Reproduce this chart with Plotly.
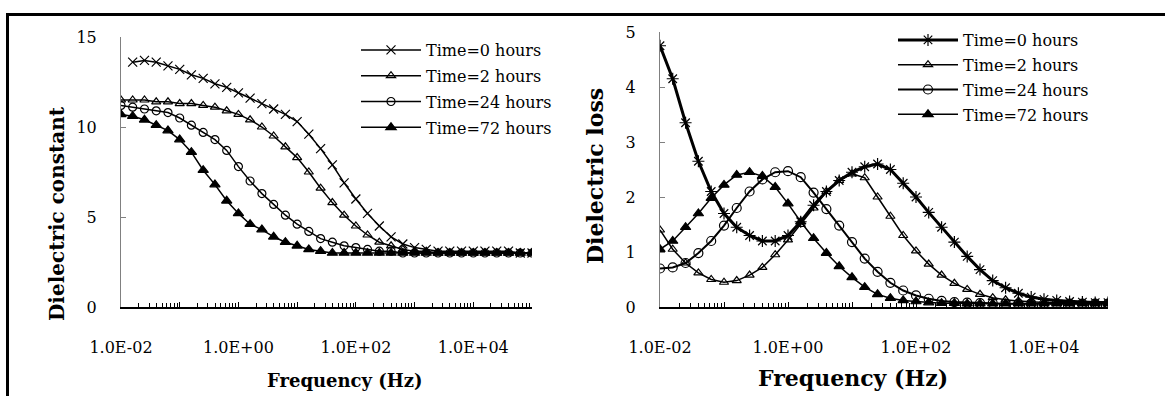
import plotly.graph_objects as go

# ---------------- data ----------------
freq = [0.01, 0.0158, 0.0251, 0.0398, 0.0631, 0.1, 0.158, 0.251, 0.398, 0.631,
        1, 1.58, 2.51, 3.98, 6.31, 10, 15.8, 25.1, 39.8, 63.1,
        100, 158, 251, 398, 631, 1000, 1580, 2510, 3980, 6310,
        10000, 15800, 25100, 39800, 63100, 100000]

series_names = ["Time=0 hours", "Time=2 hours", "Time=24 hours", "Time=72 hours"]

# Dielectric constant (left panel)
eps_t0 = [None, 13.6, 13.7, 13.6, 13.4, 13.2, 12.9, 12.7, 12.4, 12.2,
          11.9, 11.6, 11.3, 11.0, 10.7, 10.3, 9.6, 8.8, 7.9, 6.9,
          6.0, 5.2, 4.5, 3.9, 3.5, 3.3, 3.2, 3.1, 3.1, 3.1,
          3.1, 3.1, 3.1, 3.1, 3.0, 3.0]
eps_t2 = [11.5, 11.5, 11.5, 11.4, 11.4, 11.3, 11.3, 11.2, 11.1, 10.9,
          10.7, 10.4, 10.0, 9.5, 8.9, 8.3, 7.5, 6.6, 5.8, 5.1,
          4.5, 4.0, 3.6, 3.4, 3.2, 3.1, 3.1, 3.0, 3.0, 3.0,
          3.0, 3.0, 3.0, 3.0, 3.0, 3.0]
eps_t24 = [11.2, 11.1, 11.0, 10.9, 10.8, 10.5, 10.1, 9.7, 9.3, 8.7,
           7.8, 7.0, 6.3, 5.7, 5.1, 4.6, 4.2, 3.8, 3.6, 3.4,
           3.3, 3.2, 3.1, 3.1, 3.0, 3.0, 3.0, 3.0, 3.0, 3.0,
           3.0, 3.0, 3.0, 3.0, 3.0, 3.0]
eps_t72 = [10.7, 10.6, 10.4, 10.1, 9.8, 9.3, 8.6, 7.6, 6.8, 5.9,
           5.2, 4.6, 4.3, 3.9, 3.6, 3.4, 3.2, 3.1, 3.0, 3.0,
           3.0, 3.0, 3.0, 3.0, 3.0, 3.0, 3.0, 3.0, 3.0, 3.0,
           3.0, 3.0, 3.0, 3.0, 3.0, 3.0]

# Dielectric loss (right panel)
loss_t0 = [4.75, 4.15, 3.35, 2.65, 2.1, 1.7, 1.45, 1.3, 1.2, 1.2,
           1.3, 1.55, 1.85, 2.1, 2.3, 2.45, 2.55, 2.6, 2.5, 2.25,
           2.0, 1.72, 1.45, 1.18, 0.92, 0.68, 0.48, 0.35, 0.25, 0.18,
           0.14, 0.12, 0.1, 0.09, 0.08, 0.08]
loss_t2 = [1.4, 1.05, 0.8, 0.62, 0.5, 0.45, 0.48, 0.58, 0.72, 0.95,
           1.22, 1.5, 1.8, 2.1, 2.3, 2.42, 2.35, 2.0, 1.65, 1.3,
           1.02, 0.78, 0.58, 0.43, 0.32, 0.23, 0.17, 0.13, 0.11, 0.09,
           0.08, 0.08, 0.07, 0.07, 0.07, 0.07]
loss_t24 = [0.7, 0.72, 0.8, 0.98, 1.2, 1.48, 1.8, 2.1, 2.32, 2.45,
            2.47, 2.36, 2.08, 1.78, 1.48, 1.18, 0.88, 0.64, 0.44, 0.3,
            0.21, 0.15, 0.11, 0.09, 0.08, 0.07, 0.07, 0.06, 0.06, 0.06,
            0.06, 0.06, 0.06, 0.06, 0.06, 0.06]
loss_t72 = [1.05, 1.2, 1.45, 1.7, 1.98, 2.22, 2.4, 2.45, 2.38, 2.18,
            1.88, 1.55, 1.25, 0.98, 0.74, 0.54, 0.36, 0.23, 0.16, 0.12,
            0.1, 0.08, 0.07, 0.07, 0.06, 0.06, 0.06, 0.06, 0.06, 0.06,
            0.06, 0.06, 0.06, 0.06, 0.06, 0.06]

x_tick_vals = [0.01, 0.1, 1, 10, 100, 1000, 10000, 100000]
x_tick_text = ["1.0E-02", "", "1.0E+00", "", "1.0E+02", "", "1.0E+04", ""]

# ---------------- figure ----------------
W, H = 1165, 396
FONT = "DejaVu Serif"

def px(xp):
    return xp / W

def py(yp):
    return 1 - yp / H

fig = go.Figure()

left_series = [eps_t0, eps_t2, eps_t24, eps_t72]
right_series = [loss_t0, loss_t2, loss_t24, loss_t72]
left_sym = ["x-thin", "triangle-up-open", "circle-open", "triangle-up"]
right_sym = ["asterisk-open", "triangle-up-open", "circle-open", "triangle-up"]
left_size = [9, 8, 8, 9]
right_size = [10, 8, 9, 9]
right_lw = [3, 1.5, 2, 1.5]

for i, (name, ys) in enumerate(zip(series_names, left_series)):
    fig.add_trace(go.Scatter(
        x=freq, y=ys, name=name, mode="lines+markers",
        line=dict(color="black", width=1.5),
        marker=dict(symbol=left_sym[i], size=left_size[i], color="black",
                    line=dict(color="black", width=1.2)),
        xaxis="x", yaxis="y", legend="legend", legendgroup="L%d" % i,
        connectgaps=False,
    ))

for i, (name, ys) in enumerate(zip(series_names, right_series)):
    fig.add_trace(go.Scatter(
        x=freq, y=ys, name=name, mode="lines+markers",
        line=dict(color="black", width=right_lw[i]),
        marker=dict(symbol=right_sym[i], size=right_size[i], color="black",
                    line=dict(color="black", width=1.2)),
        xaxis="x2", yaxis="y2", legend="legend2", legendgroup="R%d" % i,
    ))

minor_vals = [m * 10 ** k for k in range(-2, 5) for m in range(2, 10)]

xcommon = dict(
    type="log", range=[-2, 5], showgrid=False, zeroline=False, automargin=False,
    showline=True, linecolor="black", linewidth=2,
    ticks="inside", ticklen=5, tickcolor="black", tickwidth=1,
    tickmode="array", tickvals=x_tick_vals, ticktext=x_tick_text,
    tickfont=dict(family=FONT, size=16, color="black"),
    ticklabelstandoff=25,
    minor=dict(ticks="inside", ticklen=4, tickcolor="black", tickwidth=1,
               tickmode="array", tickvals=minor_vals, showgrid=False),
)
ycommon = dict(
    showgrid=False, zeroline=False, showline=True, linecolor="#808080",
    automargin=False,
    linewidth=1, ticks="inside", ticklen=5, tickcolor="#808080",
    tickfont=dict(family=FONT, size=16, color="black"),
    ticklabelstandoff=20,
)

fig.update_layout(
    template="none",
    width=W, height=H, autosize=False,
    margin=dict(l=0, r=0, t=0, b=0, pad=0, autoexpand=False),
    paper_bgcolor="white", plot_bgcolor="white",
    xaxis=dict(domain=[px(121), px(532)], anchor="y", **xcommon),
    yaxis=dict(domain=[py(307), py(37)], anchor="x", range=[0, 15],
               dtick=5, **ycommon),
    xaxis2=dict(domain=[px(660), px(1108)], anchor="y2", **xcommon),
    yaxis2=dict(domain=[py(307), py(32)], anchor="x2", range=[0, 5],
                dtick=1, **ycommon),
    legend=dict(x=px(356), y=py(33), xanchor="left", yanchor="top",
                bgcolor="rgba(0,0,0,0)", borderwidth=0,
                font=dict(family=FONT, size=16, color="black"),
                tracegroupgap=2, itemwidth=60),
    legend2=dict(x=px(893), y=py(23), xanchor="left", yanchor="top",
                 bgcolor="rgba(0,0,0,0)", borderwidth=0,
                 font=dict(family=FONT, size=16, color="black"),
                 tracegroupgap=1, itemwidth=60),
    showlegend=True,
)

annots = [
    dict(text="<b>Dielectric constant</b>", x=px(57), y=py(214), textangle=-90,
         font=dict(family=FONT, size=20, color="black")),
    dict(text="<b>Frequency (Hz)</b>", x=px(345), y=py(380),
         font=dict(family=FONT, size=18, color="black")),
    dict(text="<b>Dielectric loss</b>", x=px(595), y=py(176), textangle=-90,
         font=dict(family=FONT, size=22, color="black")),
    dict(text="<b>Frequency (Hz)</b>", x=px(853), y=py(378),
         font=dict(family=FONT, size=22, color="black")),
]
for a in annots:
    fig.add_annotation(xref="paper", yref="paper", showarrow=False,
                       xanchor="center", yanchor="middle", **a)

# frame lines (top and left border of the figure)
fig.add_shape(type="line", xref="paper", yref="paper",
              x0=px(6), x1=1, y0=py(14.5), y1=py(14.5),
              line=dict(color="black", width=3))
fig.add_shape(type="line", xref="paper", yref="paper",
              x0=px(7.5), x1=px(7.5), y0=0, y1=py(14.5),
              line=dict(color="black", width=3))

fig.write_html("out.html")
